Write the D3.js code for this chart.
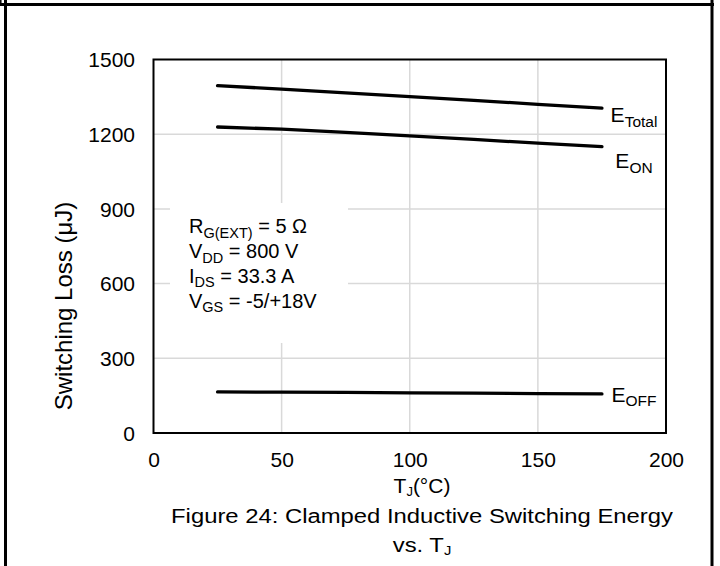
<html>
<head>
<title>Clamped Inductive Switching Energy vs. Tj</title>
<style type="text/css">
* {
  margin: 0;
  padding: 0;
}
body {
  background: #fff;
}
svg text {
  font-family: "Liberation Sans", Arial, sans-serif;
  fill: #000;
}
</style>
<script type="text/javascript" src="https://cdn.jsdelivr.net/npm/d3@7"></script>
<script type="text/javascript">
// values: T_J in degC, energy in uJ
var tj = [25, 50, 75, 100, 125, 150, 175];
var eTotal = [1395, 1381, 1366, 1351, 1336, 1320, 1305];
var eOn = [1229, 1220, 1207, 1193, 1179, 1164, 1150];
var eOff = [165, 164, 163, 161, 160, 158, 157];
var seriesLabels = [["E", "Total"], ["E", "ON"], ["E", "OFF"]];

var xTicks = [0, 50, 100, 150, 200];
var yTicks = [0, 300, 600, 900, 1200, 1500];

// test conditions box: main letter, subscript, rest
var conditions = [
  ["R", "G(EXT)", " = 5 \u03A9"],
  ["V", "DD", " = 800 V"],
  ["I", "DS", " = 33.3 A"],
  ["V", "GS", " = -5/+18V"]
];

var xTitle = ["T", "J", "(\u00B0C)"];
var yTitle = "Switching Loss (\u03BCJ)";
var captionLine1 = "Figure 24: Clamped Inductive Switching Energy";
var captionLine2 = ["vs. T", "J"];

window.onload = function() {
  var W = 720, H = 566;
  var svg = d3.select("#chart").append("svg")
    .attr("width", W)
    .attr("height", H);

  // table cell frame around the figure
  svg.append("line").attr("x1", 0).attr("x2", 714).attr("y1", 4.5).attr("y2", 4.5)
    .attr("stroke", "#000").attr("stroke-width", 3);
  svg.append("line").attr("x1", 5.5).attr("x2", 5.5).attr("y1", 0).attr("y2", H)
    .attr("stroke", "#000").attr("stroke-width", 3);
  svg.append("line").attr("x1", 712).attr("x2", 712).attr("y1", 0).attr("y2", H)
    .attr("stroke", "#000").attr("stroke-width", 3);
  svg.append("line").attr("x1", 0.8).attr("x2", 0.8).attr("y1", 0).attr("y2", 4)
    .attr("stroke", "#000").attr("stroke-width", 1.5);

  var x = d3.scaleLinear().domain([0, 200]).range([153.5, 666]);
  var y = d3.scaleLinear().domain([0, 1500]).range([433, 59.5]);

  //gridlines
  var grid = svg.append("g").attr("stroke", "#d9d9d9").attr("stroke-width", 1.5);
  xTicks.slice(1, -1).forEach(function(v) {
    grid.append("line")
      .attr("x1", x(v)).attr("x2", x(v))
      .attr("y1", y(0)).attr("y2", y(1500));
  });
  yTicks.slice(1, -1).forEach(function(v) {
    grid.append("line")
      .attr("x1", x(0)).attr("x2", x(200))
      .attr("y1", y(v)).attr("y2", y(v));
  });

  // white text box hides the grid behind the conditions
  svg.append("rect")
    .attr("x", 170).attr("y", 203)
    .attr("width", 178).attr("height", 140)
    .attr("fill", "#fff");

  // plot border
  svg.append("rect")
    .attr("x", x(0)).attr("y", y(1500))
    .attr("width", x(200) - x(0)).attr("height", y(0) - y(1500))
    .attr("fill", "none")
    .attr("stroke", "#000")
    .attr("stroke-width", 2);

  // axes (labels only)
  var xAxis = svg.append("g")
    .attr("transform", "translate(0," + y(0) + ")")
    .call(d3.axisBottom(x).tickValues(xTicks).tickFormat(d3.format("d")).tickSize(0).tickPadding(19));
  var yAxis = svg.append("g")
    .attr("transform", "translate(" + x(0) + ",0)")
    .call(d3.axisLeft(y).tickValues(yTicks).tickFormat(d3.format("d")).tickSize(0).tickPadding(18.5));
  [xAxis, yAxis].forEach(function(a) {
    a.select(".domain").remove();
    a.selectAll("text")
      .attr("font-size", "21px")
      .attr("font-family", "'Liberation Sans', Arial, sans-serif")
      .attr("fill", "#000");
  });
  yAxis.selectAll("text").attr("dy", "0.35em");

  // series
  var series = [eTotal, eOn, eOff];
  var line = d3.line()
    .x(function(d, i) { return x(tj[i]); })
    .y(function(d) { return y(d); });

  series.forEach(function(vals) {
    svg.append("path")
      .attr("d", line(vals))
      .attr("fill", "none")
      .attr("stroke", "#000")
      .attr("stroke-width", 3.3)
      .attr("stroke-linecap", "round");
  });

  // series labels next to the line ends
  var labelDy = [14.3, 21.7, 7.8];
  series.forEach(function(vals, i) {
    var t = svg.append("text")
      .attr("x", 634)
      .attr("y", y(vals[vals.length - 1]) + labelDy[i])
      .attr("text-anchor", "middle")
      .attr("font-size", "21px");
    t.append("tspan").text(seriesLabels[i][0]);
    t.append("tspan").attr("font-size", "15.5px").attr("dy", 4.5).text(seriesLabels[i][1]);
  });

  // test conditions
  conditions.forEach(function(c, i) {
    var t = svg.append("text")
      .attr("x", 189)
      .attr("y", 233.3 + i * 24.8)
      .attr("font-size", "20px");
    t.append("tspan").text(c[0]);
    t.append("tspan").attr("font-size", "14.5px").attr("dy", 4.5).text(c[1]);
    t.append("tspan").attr("dy", -4.5).text(c[2]);
  });

  // axis titles
  svg.append("text")
    .attr("transform", "translate(71.5,306) rotate(-90)")
    .attr("text-anchor", "middle")
    .attr("font-size", "24px")
    .text(yTitle);

  var xt = svg.append("text")
    .attr("x", 422).attr("y", 493)
    .attr("text-anchor", "middle")
    .attr("font-size", "21px");
  xt.append("tspan").text(xTitle[0]);
  xt.append("tspan").attr("font-size", "13px").attr("dy", 3).text(xTitle[1]);
  xt.append("tspan").attr("dy", -3).text(xTitle[2]);

  // caption, glyphs are a bit wider than plain Arial
  svg.append("text")
    .attr("transform", "translate(422,523.3) scale(1.135,1)")
    .attr("text-anchor", "middle")
    .attr("font-size", "21px")
    .text(captionLine1);
  var cap2 = svg.append("text")
    .attr("transform", "translate(422,552) scale(1.135,1)")
    .attr("text-anchor", "middle")
    .attr("font-size", "21px");
  cap2.append("tspan").text(captionLine2[0]);
  cap2.append("tspan").attr("font-size", "13px").attr("dy", 3).text(captionLine2[1]);
}
</script>
</head>
<body>
  <div id="chart"></div>
</body>
</html>
